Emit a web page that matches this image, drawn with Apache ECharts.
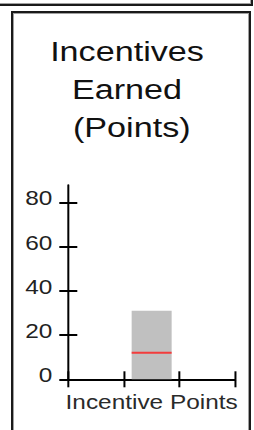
<!DOCTYPE html>
<html>
<head>
<meta charset="utf-8">
<script src="https://cdn.jsdelivr.net/npm/echarts@6/dist/echarts.min.js"></script>
<style>
	html, body { margin: 0; padding: 0; width: 254px; height: 430px; overflow: hidden; background: #fff; }
	.box { position: absolute; box-sizing: border-box; border: 2px solid #1a1a1a; box-shadow: inset 1px 1px 0 #a0a0a0, inset -1px -1px 0 #a0a0a0; }
	#topBox { left: -4px; top: -30px; width: 257px; height: 36px; }
	#panel { left: 11px; top: 11px; width: 240px; height: 440px; }
	#chart { position: absolute; left: 0; top: 0; height: 430px; transform-origin: 0 0; }
</style>
</head>
<body>
<div class="box" id="topBox"></div>
<div class="box" id="panel"></div>
<div id="chart"></div>
<script>
	// values
	const titleLines = ['Incentives', 'Earned', ' (Points)'];
	const categories = ['', 'Incentive Points', ''];
	const earnedValues = [null, 31, null];
	const markerValues = [null, 12, null];
	const yTickValues = [0, 20, 40, 60, 80];
	const yMin = 0;
	const yMax = 88;

	// the reference is stretched sideways, so draw narrow and scale
	const stretch = 1.22;
	const W = 254 / stretch;
	const px = (x) => x / stretch;

	let element = document.getElementById('chart');
	element.style.width = W + 'px';
	element.style.transform = 'scaleX(' + stretch + ')';

	let chart = echarts.init(element, null, { renderer: 'svg', width: W, height: 430 });

	const fontFamily = '"Liberation Sans", Arial, sans-serif';
	const baseX = {
		type: 'category',
		data: categories,
		boundaryGap: true,
		position: 'bottom',
	};
	const baseY = {
		type: 'value',
		min: yMin,
		max: yMax,
		position: 'left',
		splitLine: { show: false },
	};

	let option = {
		animation: false,
		title: {
			text: titleLines.join('\n'),
			left: 'center',
			top: 28,
			textStyle: {
				fontFamily: fontFamily,
				fontSize: 28,
				fontWeight: 'normal',
				lineHeight: 38,
				color: '#111',
			},
		},
		grid: {
			left: px(68.3),
			right: W - px(235),
			top: 185,
			bottom: 430 - 379.3,
			containLabel: false,
		},
		xAxis: [
			Object.assign({}, baseX, {
				axisLine: { show: true, lineStyle: { color: '#000', width: 2 } },
				axisTick: { show: true, inside: false, length: 8, interval: 0, lineStyle: { color: '#000', width: 2 / stretch } },
				axisLabel: {
					interval: 0,
					margin: 13,
					fontFamily: fontFamily,
					fontSize: 20,
					color: '#2a2a2a',
				},
			}),
			Object.assign({}, baseX, {
				axisLine: { show: false },
				axisTick: { show: true, inside: true, length: 8, interval: 0, lineStyle: { color: '#000', width: 2 / stretch } },
				axisLabel: { show: false },
			}),
		],
		yAxis: [
			Object.assign({}, baseY, {
				axisLine: { show: true, lineStyle: { color: '#000', width: 2 / stretch } },
				axisTick: { show: true, inside: false, length: px(9), customValues: yTickValues, lineStyle: { color: '#000', width: 2 } },
				axisLabel: {
					customValues: yTickValues,
					margin: px(16),
					fontFamily: fontFamily,
					fontSize: 20,
					color: '#222',
					verticalAlign: 'bottom',
					lineHeight: 8,
				},
			}),
			Object.assign({}, baseY, {
				axisLine: { show: false },
				axisTick: { show: true, inside: true, length: px(9), customValues: yTickValues, lineStyle: { color: '#000', width: 2 } },
				axisLabel: { show: false },
			}),
		],
		series: [
			{
				name: 'Earned',
				type: 'bar',
				xAxisIndex: 0,
				yAxisIndex: 0,
				data: earnedValues,
				barWidth: px(40),
				itemStyle: { color: '#c0c0c0' },
				z: 1,
			},
			{
				name: 'Marker',
				type: 'scatter',
				xAxisIndex: 0,
				yAxisIndex: 0,
				data: markerValues,
				symbol: 'rect',
				symbolSize: [px(40), 2],
				itemStyle: { color: '#ff1a1a' },
				z: 3,
			},
		],
	};

	chart.setOption(option);
</script>
</body>
</html>
